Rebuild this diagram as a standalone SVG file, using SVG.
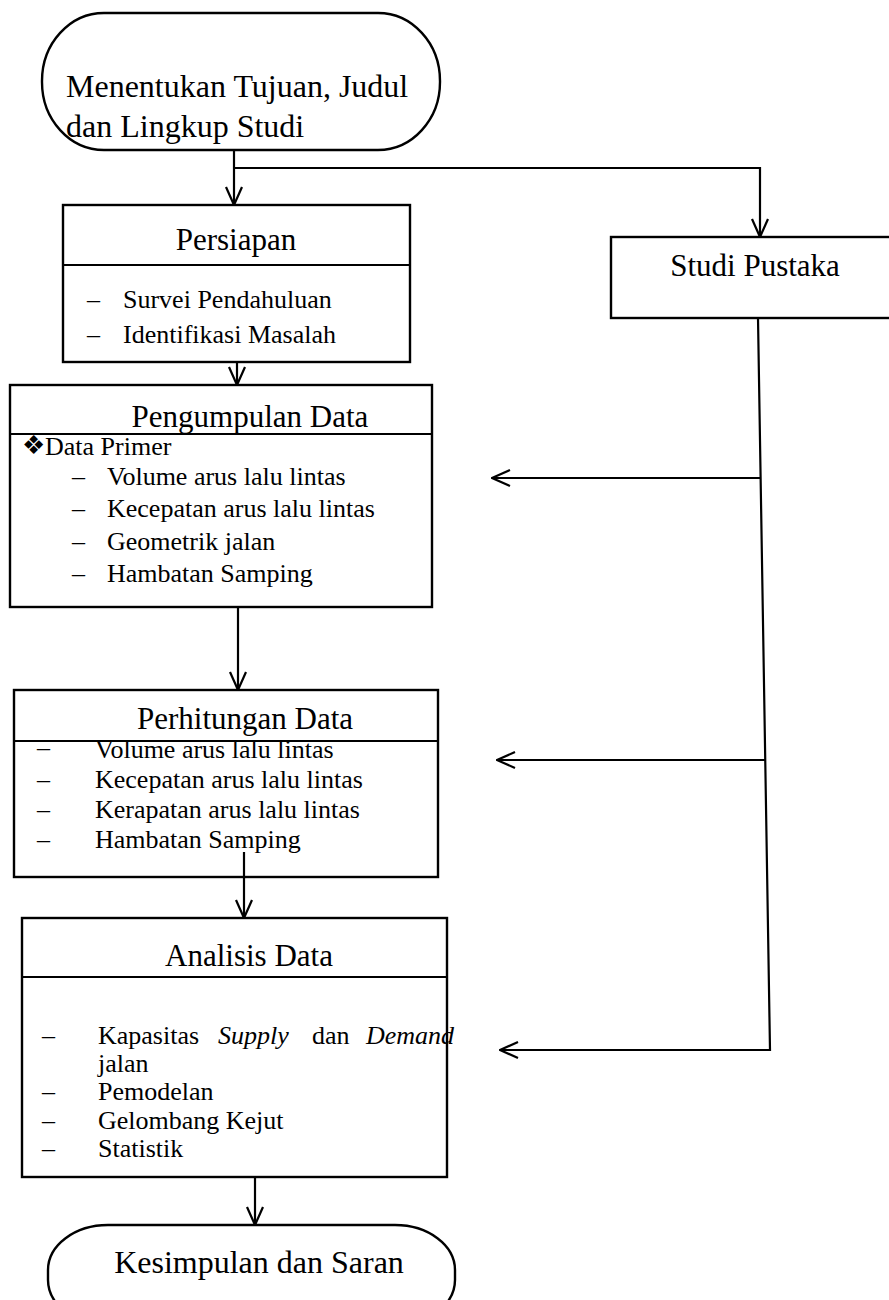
<svg xmlns="http://www.w3.org/2000/svg" width="889" height="1300" viewBox="0 0 889 1300">
<defs>
<marker id="arr" viewBox="0 0 20 20" refX="19" refY="10" markerWidth="20" markerHeight="20" markerUnits="userSpaceOnUse" orient="auto">
<path d="M1,2 L19,10 L1,18" fill="none" stroke="#000" stroke-width="2.2"/>
</marker>
<style>
.box{fill:#fff;stroke:#000;stroke-width:2.4}
.div{stroke:#000;stroke-width:2.2}
.hd{font-family:"Liberation Serif","Times New Roman",serif;font-size:31px;fill:#000}
.big{font-family:"Liberation Serif","Times New Roman",serif;font-size:32px;fill:#000}
.it{font-family:"Liberation Serif","Times New Roman",serif;font-size:26px;fill:#000}
.con{fill:none;stroke:#000;stroke-width:2.2}
</style>
</defs>
<rect width="889" height="1300" fill="#fff"/>
<g id="start">
<rect class="box" x="42" y="13" width="398" height="137" rx="62" ry="68"/>
<text class="big" x="66" y="97">Menentukan Tujuan, Judul</text>
<text class="big" x="66" y="137">dan Lingkup Studi</text>
</g>
<g id="persiapan">
<rect class="box" x="63" y="205" width="347" height="157"/>
<line class="div" x1="63" y1="265" x2="410" y2="265"/>
<text class="hd" x="236" y="250" text-anchor="middle">Persiapan</text>
<text class="it" x="87" y="308">–</text><text class="it" x="123" y="308">Survei Pendahuluan</text>
<text class="it" x="87" y="343">–</text><text class="it" x="123" y="343">Identifikasi Masalah</text>
</g>
<g id="studi-pustaka">
<rect class="box" x="611" y="237" width="280" height="81"/>
<text class="hd" x="755" y="276" text-anchor="middle">Studi Pustaka</text>
</g>
<g id="pengumpulan">
<rect class="box" x="10" y="385" width="422" height="222"/>
<line class="div" x1="10" y1="434" x2="432" y2="434"/>
<text class="hd" x="250" y="427" text-anchor="middle">Pengumpulan Data</text>
<text class="it" x="22" y="454" font-size="19">❖</text><text class="it" x="45" y="455">Data Primer</text>
<text class="it" x="72" y="485">–</text><text class="it" x="107" y="485">Volume arus lalu lintas</text>
<text class="it" x="72" y="517">–</text><text class="it" x="107" y="517">Kecepatan arus lalu lintas</text>
<text class="it" x="72" y="550">–</text><text class="it" x="107" y="550">Geometrik jalan</text>
<text class="it" x="72" y="582">–</text><text class="it" x="107" y="582">Hambatan Samping</text>
</g>
<g id="perhitungan">
<rect class="box" x="14" y="690" width="424" height="187"/>
<text class="it" x="95" y="758">Volume arus lalu lintas</text>
<line class="div" x1="14" y1="741" x2="438" y2="741"/>
<text class="hd" x="245" y="729" text-anchor="middle">Perhitungan Data</text>
<text class="it" x="37" y="756">–</text>
<text class="it" x="37" y="788">–</text><text class="it" x="95" y="788">Kecepatan arus lalu lintas</text>
<text class="it" x="37" y="818">–</text><text class="it" x="95" y="818">Kerapatan arus lalu lintas</text>
<text class="it" x="37" y="848">–</text><text class="it" x="95" y="848">Hambatan Samping</text>
</g>
<g id="analisis">
<rect class="box" x="22" y="918" width="425" height="259"/>
<line class="div" x1="22" y1="977" x2="447" y2="977"/>
<text class="hd" x="249" y="966" text-anchor="middle">Analisis Data</text>
<text class="it" x="42" y="1044">–</text><text class="it" y="1044"><tspan x="98">Kapasitas</tspan><tspan x="218" font-style="italic">Supply</tspan><tspan x="312">dan</tspan><tspan x="366" font-style="italic">Demand</tspan></text>
<text class="it" x="98" y="1072">jalan</text>
<text class="it" x="42" y="1100">–</text><text class="it" x="98" y="1100">Pemodelan</text>
<text class="it" x="42" y="1129">–</text><text class="it" x="98" y="1129">Gelombang Kejut</text>
<text class="it" x="42" y="1157">–</text><text class="it" x="98" y="1157">Statistik</text>
</g>
<g id="end">
<rect class="box" x="48" y="1225" width="407" height="100" rx="60" ry="45"/>
<text class="big" x="259" y="1273" text-anchor="middle">Kesimpulan dan Saran</text>
</g>
<g id="connectors">
<path class="con" d="M234,150 V205" marker-end="url(#arr)"/>
<path class="con" d="M234,168 H760 V237" marker-end="url(#arr)"/>
<path class="con" d="M237,362 V385" marker-end="url(#arr)"/>
<path class="con" d="M238,607 V690" marker-end="url(#arr)"/>
<path class="con" d="M244,852 V918" marker-end="url(#arr)"/>
<path class="con" d="M255,1177 V1225" marker-end="url(#arr)"/>
<path class="con" d="M758,318 L770,1050 H500" marker-end="url(#arr)"/>
<path class="con" d="M761,478 H492" marker-end="url(#arr)"/>
<path class="con" d="M765,760 H497" marker-end="url(#arr)"/>
</g>
</svg>
